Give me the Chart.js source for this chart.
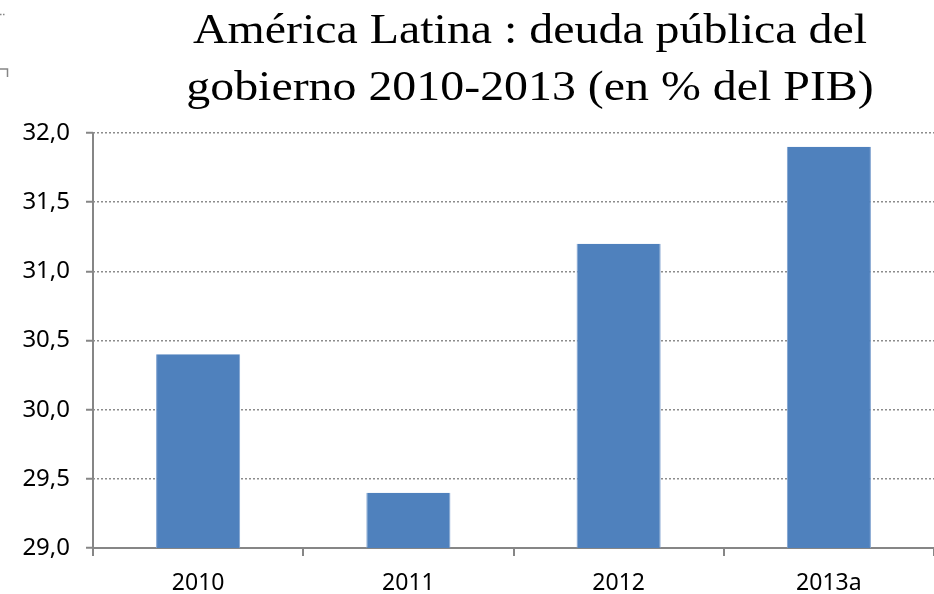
<!DOCTYPE html>
<html lang="es">

<head>
    <meta charset="UTF-8" />
    <title>Deuda pública América Latina</title>
    <script src="https://cdn.jsdelivr.net/npm/chart.js@4/dist/chart.umd.min.js"></script>
    <style>
        html, body { margin: 0; padding: 0; background: #fff; }
        #wrap { width: 934px; height: 594px; }
    </style>
</head>

<body>
    <div id="wrap"><canvas id="myChart"></canvas></div>

    <script>
        // datos
        var titleLines = ['América Latina : deuda pública del', 'gobierno 2010-2013 (en % del PIB)'];
        var years = ['2010', '2011', '2012', '2013a'];
        var debt = [30.4, 29.4, 31.2, 31.9];
        var yMin = 29.0, yMax = 32.0, yStep = 0.5;

        var axisGray = '#868686';

        // titulo serif, un poco ensanchado como en el original
        var titlePlugin = {
            id: 'serifTitle',
            afterDraw: function (chart) {
                var c = chart.ctx;
                c.save();
                c.translate(530, 0);
                c.scale(1.14, 1);
                c.font = '42px "Liberation Serif", "Times New Roman", serif';
                c.fillStyle = '#000';
                c.textAlign = 'center';
                c.textBaseline = 'alphabetic';
                c.fillText(titleLines[0], 0, 43);
                c.fillText(titleLines[1], 0, 100);
                c.restore();

                // restos de marco arriba a la izquierda
                c.save();
                c.strokeStyle = axisGray;
                c.lineWidth = 1.5;
                c.setLineDash([1.5, 1.5]);
                c.beginPath(); c.moveTo(0, 14.5); c.lineTo(6, 14.5); c.stroke();
                c.setLineDash([]);
                c.beginPath(); c.moveTo(0, 69); c.lineTo(7.5, 69); c.lineTo(7.5, 77); c.stroke();
                c.restore();
            }
        };

        var ctx = document.getElementById('myChart').getContext('2d');
        var myChart = new Chart(ctx, {
            type: 'bar',
            data: {
                labels: years,
                datasets: [{
                    data: debt,
                    backgroundColor: '#4F81BD',
                    borderColor: '#7EA1CF',
                    borderWidth: { left: 1, right: 1, top: 0, bottom: 0 },
                    categoryPercentage: 1.0,
                    barPercentage: 0.4
                }]
            },
            plugins: [titlePlugin],
            options: {
                responsive: true,
                maintainAspectRatio: false,
                animation: false,
                layout: { padding: { top: 133, right: 0, left: 0, bottom: 0 } },
                plugins: {
                    legend: { display: false },
                    tooltip: { enabled: false },
                    title: { display: false }
                },
                scales: {
                    x: {
                        offset: true,
                        grid: {
                            offset: true,
                            drawOnChartArea: true,
                            drawTicks: true,
                            tickLength: 8,
                            // solo la primera linea = eje vertical
                            color: function (c) { return c.index === 0 ? axisGray : 'rgba(0,0,0,0)'; },
                            tickColor: axisGray,
                            lineWidth: 2,
                            tickWidth: 2
                        },
                        border: { color: axisGray, width: 2 },
                        ticks: {
                            color: '#000',
                            padding: 14,
                            font: { family: '"Noto Sans"', size: 23 }
                        },
                        afterFit: function (s) { s.height = 46; }
                    },
                    y: {
                        min: yMin,
                        max: yMax,
                        grid: {
                            color: '#8c8c8c',
                            lineWidth: 1.5,
                            tickLength: 7,
                            tickBorderDash: [],
                            tickColor: axisGray,
                            tickWidth: 2
                        },
                        border: { display: false, dash: [2, 2] },
                        ticks: {
                            stepSize: yStep,
                            color: '#000',
                            padding: 16,
                            font: { family: '"Noto Sans"', size: 24 },
                            callback: function (v) { return v.toFixed(1).replace('.', ','); }
                        },
                        afterFit: function (s) { s.width = 93; }
                    }
                }
            }
        });
    </script>
</body>

</html>
